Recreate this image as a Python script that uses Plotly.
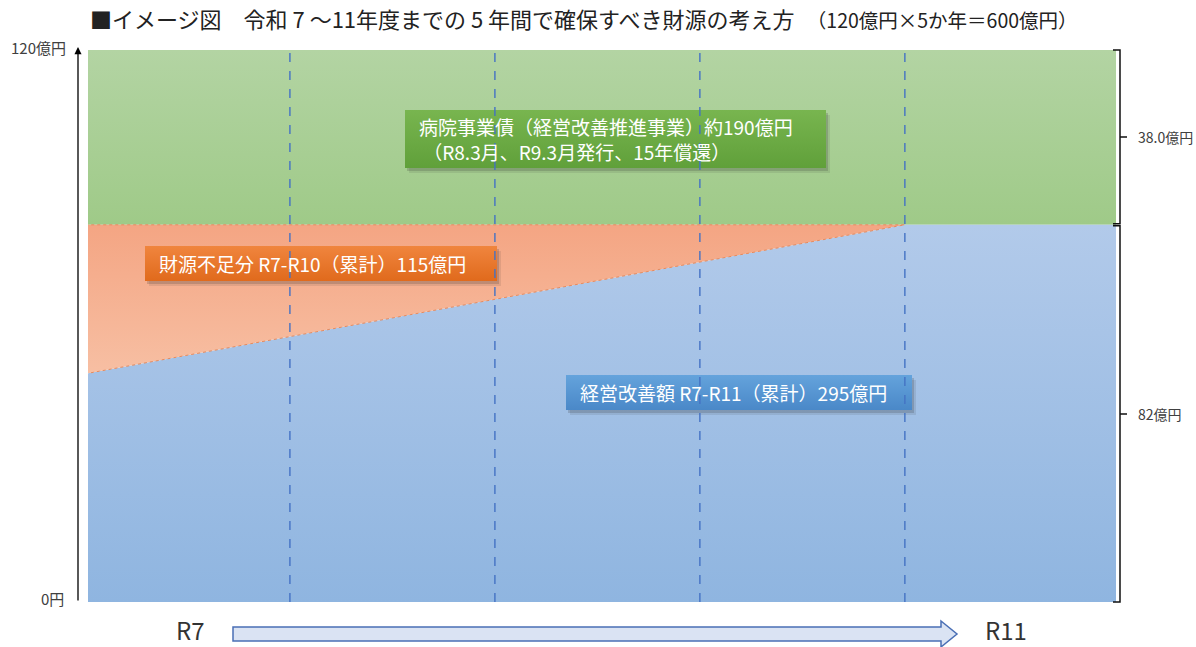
import plotly.graph_objects as go

# ---- data -------------------------------------------------------------
years = ["R7", "R8", "R9", "R10", "R11"]
year_edges = [0, 1, 2, 3, 4, 5]                 # fiscal-year boundaries on x
improvement = [49.6, 57.7, 65.8, 73.9, 82, 82]  # 経営改善額 level at each boundary (億円)
total_level = 120                               # 120億円 per year
bond_level = 38.0                               # 病院事業債 share
base_level = 82                                 # 経営改善 share at R11
axis_labels = ["120億円", "0円"]
bracket_labels = ["38.0億円", "82億円"]

title_main = "■イメージ図　令和 7 ～11年度までの 5 年間で確保すべき財源の考え方"
title_sub = "（120億円×5か年＝600億円）"
box_lines = [
    ["病院事業債（経営改善推進事業）約190億円", " （R8.3月、R9.3月発行、15年償還）"],
    ["財源不足分 R7-R10（累計）115億円"],
    ["経営改善額 R7-R11（累計）295億円"],
]

FONT = "Noto Sans CJK JP"
W, H = 1196, 647
L, R, T, B = 88, 80, 50, 45
PW, PH = W - L - R, H - T - B
X_LO, X_HI = 0.015, 5.03   # visible x-span of the five fiscal years


def dx(px):
    return X_LO + (px - L) / PW * (X_HI - X_LO)


def dy(py):
    return (T + PH - py) / PH * total_level


def fx(px):
    return (px - L) / PW


def fy(py):
    return (T + PH - py) / PH


fig = go.Figure()

# green band: hospital bond
fig.add_trace(go.Scatter(
    x=[X_LO, X_HI, X_HI, X_LO, X_LO],
    y=[base_level, base_level, total_level, total_level, base_level],
    fill="toself", mode="lines", line=dict(width=0),
    fillgradient=dict(type="vertical", start=base_level, stop=total_level,
                      colorscale=[[0, "#9fca88"], [1, "#b3d4a3"]]),
    hoverinfo="skip", showlegend=False))

# blue area: improvement
fig.add_trace(go.Scatter(
    x=year_edges[:-1] + [X_HI, X_HI, year_edges[0], year_edges[0]],
    y=improvement[:-1] + [improvement[-1], 0, 0, improvement[0]],
    fill="toself", mode="lines", line=dict(width=0),
    fillgradient=dict(type="vertical", start=0, stop=base_level,
                      colorscale=[[0, "#8fb5e0"], [1, "#b2caea"]]),
    hoverinfo="skip", showlegend=False))

# orange wedge: shortfall
shortfall_x = year_edges[:5] + [year_edges[0], year_edges[0]]
shortfall_y = improvement[:5] + [base_level, improvement[0]]
fig.add_trace(go.Scatter(
    x=shortfall_x, y=shortfall_y,
    fill="toself", mode="lines",
    line=dict(width=1, color="#e48a5f", dash="dot"),
    fillgradient=dict(type="vertical", start=improvement[0], stop=base_level,
                      colorscale=[[0, "#f7bfa3"], [1, "#f4a583"]]),
    hoverinfo="skip", showlegend=False))

# year divisions
for xe in year_edges[1:-1]:
    fig.add_shape(type="line", x0=xe, x1=xe, y0=0, y1=total_level,
                  xref="x", yref="y",
                  line=dict(color="#4472c4", width=1.4, dash="dash"), layer="above")

# label boxes with drop shadows
boxes = [
    dict(px=(405, 826), py=(110, 168), top="#78b54f", bottom="#60a03a", lines=box_lines[0]),
    dict(px=(145, 497), py=(246, 281), top="#f0853e", bottom="#e06a1c", lines=box_lines[1]),
    dict(px=(566, 912), py=(375, 410), top="#64a3dc", bottom="#4a88c8", lines=box_lines[2]),
]
for b in boxes:
    x0, x1 = b["px"]
    y0, y1 = b["py"]
    for off, alpha in [(5, 0.10), (3, 0.18)]:
        fig.add_trace(go.Scatter(
            x=[dx(x0 + off - 1), dx(x1 + off - 1), dx(x1 + off - 1), dx(x0 + off - 1), dx(x0 + off - 1)],
            y=[dy(y0 + off), dy(y0 + off), dy(y1 + off), dy(y1 + off), dy(y0 + off)],
            fill="toself", mode="lines", line=dict(width=0),
            fillcolor=f"rgba(40,40,40,{alpha})", hoverinfo="skip", showlegend=False))
    fig.add_trace(go.Scatter(
        x=[dx(x0), dx(x1), dx(x1), dx(x0), dx(x0)],
        y=[dy(y0), dy(y0), dy(y1), dy(y1), dy(y0)],
        fill="toself", mode="lines", line=dict(width=0),
        fillgradient=dict(type="vertical", start=dy(y1), stop=dy(y0),
                          colorscale=[[0, b["bottom"]], [1, b["top"]]]),
        hoverinfo="skip", showlegend=False))
    n = len(b["lines"])
    step = 25
    first = (y0 + y1) / 2 - step * (n - 1) / 2
    for i, line in enumerate(b["lines"]):
        fig.add_annotation(x=fx(x0 + 12), y=fy(first + i * step), xref="paper", yref="paper",
                           text=line, showarrow=False, xanchor="left", yanchor="middle",
                           align="left", font=dict(family=FONT, size=19, color="white"))

# left axis arrow
fig.add_annotation(x=fx(78), y=fy(47), xref="paper", yref="paper", ax=0, ay=555,
                   axref="pixel", ayref="pixel", showarrow=True, arrowhead=2,
                   arrowsize=1.1, arrowwidth=1.3, arrowcolor="#000", text="")
fig.add_annotation(x=fx(68), y=fy(47), xref="paper", yref="paper", text=axis_labels[0],
                   showarrow=False, xanchor="right", yanchor="middle",
                   font=dict(family=FONT, size=15, color="#404040"))
fig.add_annotation(x=fx(66), y=fy(598), xref="paper", yref="paper", text=axis_labels[1],
                   showarrow=False, xanchor="right", yanchor="middle",
                   font=dict(family=FONT, size=15, color="#404040"))

# right braces
def brace(ytop, ybot):
    xv, xh, xt = fx(1120), fx(1113), fx(1127)
    yt, yb, ym = fy(ytop), fy(ybot), fy((ytop + ybot) / 2)
    return (f"M {xh},{yt} L {xv},{yt} L {xv},{yb} L {xh},{yb} "
            f"M {xv},{ym} L {xt},{ym}")


for (top_v, bot_v), lab in zip([(total_level, base_level), (base_level, 0)], bracket_labels):
    ytop = T + PH - top_v / total_level * PH
    ybot = T + PH - bot_v / total_level * PH
    if bot_v > 0:
        ybot -= 1
    if top_v < total_level:
        ytop += 1
    fig.add_shape(type="path", path=brace(ytop, ybot), xref="paper", yref="paper",
                  line=dict(color="#111", width=1.5))
    fig.add_annotation(x=fx(1136), y=fy((ytop + ybot) / 2), xref="paper", yref="paper",
                       text=lab, showarrow=False, xanchor="left", yanchor="middle",
                       font=dict(family=FONT, size=14, color="#404040"))

# timeline arrow R7 -> R11
ax0, ax1, ahead = 233, 957, 941
yc, sh, hh = 634, 7, 13
arrow_path = (f"M {fx(ax0)},{fy(yc - sh)} L {fx(ahead)},{fy(yc - sh)} "
              f"L {fx(ahead)},{fy(yc - hh)} L {fx(ax1)},{fy(yc)} "
              f"L {fx(ahead)},{fy(yc + hh)} L {fx(ahead)},{fy(yc + sh)} "
              f"L {fx(ax0)},{fy(yc + sh)} Z")
fig.add_shape(type="path", path=arrow_path, xref="paper", yref="paper",
              fillcolor="#dae3f3", line=dict(color="#4a6fb5", width=1.5))
fig.add_annotation(x=fx(190), y=fy(629), xref="paper", yref="paper", text=years[0],
                   showarrow=False, xanchor="center", yanchor="middle",
                   font=dict(family=FONT, size=24, color="#333"))
fig.add_annotation(x=fx(1006), y=fy(629), xref="paper", yref="paper", text=years[-1],
                   showarrow=False, xanchor="center", yanchor="middle",
                   font=dict(family=FONT, size=24, color="#333"))

# title
fig.add_annotation(x=fx(88), y=fy(18), xref="paper", yref="paper",
                   text=f"{title_main}　<span style='font-size:19.5px'>{title_sub}</span>",
                   showarrow=False, xanchor="left", yanchor="middle",
                   font=dict(family=FONT, size=22, color="#222"))

fig.update_xaxes(range=[X_LO, X_HI], visible=False, fixedrange=True)
fig.update_yaxes(range=[0, total_level], visible=False, fixedrange=True)
fig.update_layout(width=W, height=H, margin=dict(l=L, r=R, t=T, b=B),
                  plot_bgcolor="white", paper_bgcolor="white", showlegend=False)

fig.write_html("out.html")
